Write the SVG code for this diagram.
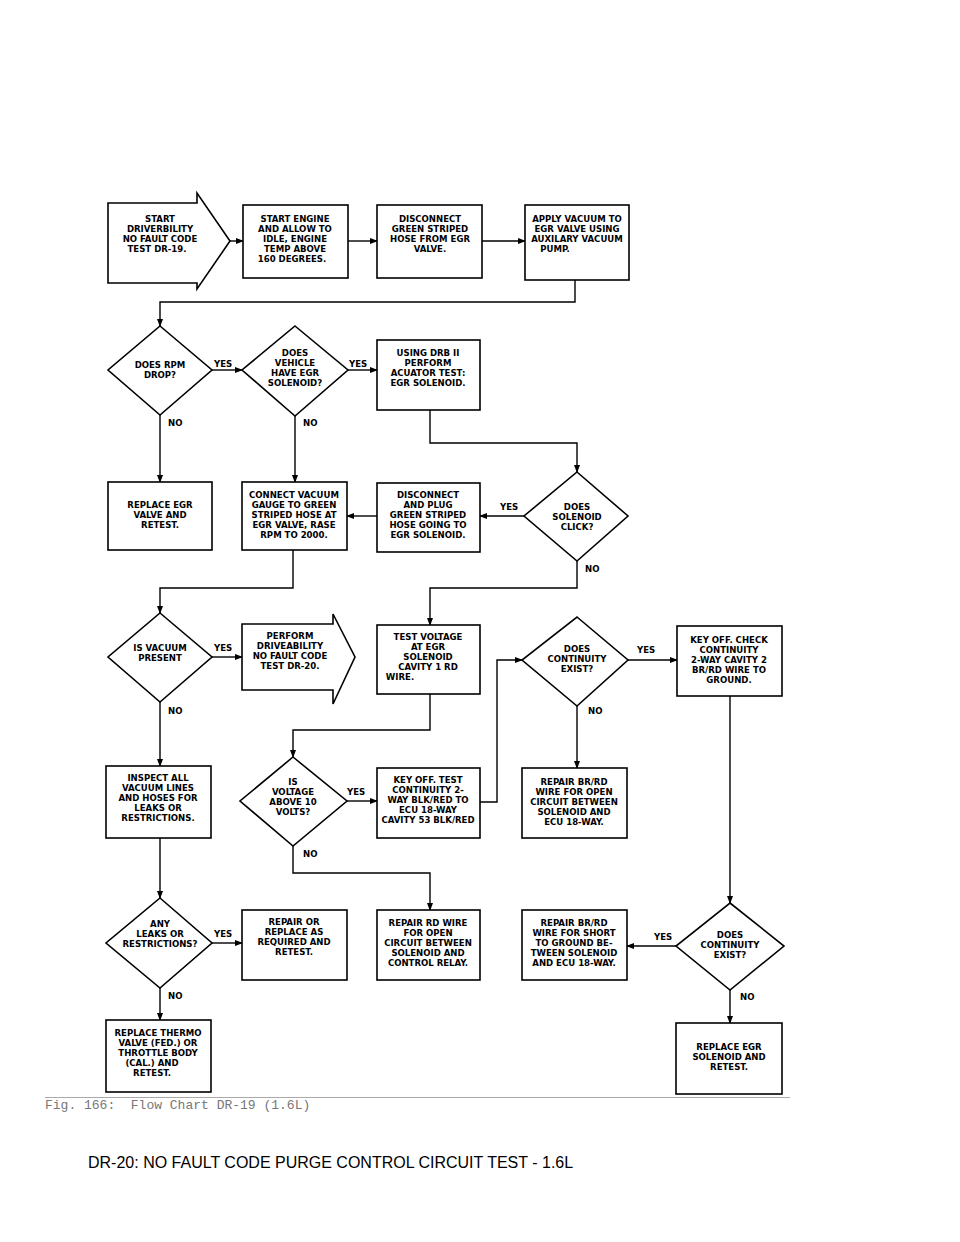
<svg xmlns="http://www.w3.org/2000/svg" width="960" height="1242" viewBox="0 0 960 1242">
<defs>
<marker id="ah" markerWidth="8" markerHeight="6" refX="7" refY="3" orient="auto" markerUnits="userSpaceOnUse"><path d="M0,0 L8,3 L0,6 z" fill="#000"/></marker>
<style>
.s{fill:#fff;stroke:#000;stroke-width:1.6}
.c{fill:none;stroke:#000;stroke-width:1.4;marker-end:url(#ah)}
.l{fill:none;stroke:#000;stroke-width:1.4}
text{font-family:"DejaVu Sans Condensed","Liberation Sans",sans-serif;font-size:9.5px;font-weight:bold;fill:#000}
.t{text-anchor:middle}
</style>
</defs>
<rect width="960" height="1242" fill="#fff"/>
<g id="connectors">
<path class="c" d="M230,241 H243"/>
<path class="c" d="M348,241 H377"/>
<path class="c" d="M482,241 H525"/>
<path class="c" d="M575,280 V302 H160 V326"/>
<path class="c" d="M212,370 H242"/>
<path class="c" d="M348,370 H377"/>
<path class="c" d="M430,410 V443 H577 V472"/>
<path class="c" d="M160,415 V482"/>
<path class="c" d="M295,416 V482"/>
<path class="c" d="M524,516 H480"/>
<path class="c" d="M377,516 H347"/>
<path class="c" d="M577,561 V588 H430 V625"/>
<path class="c" d="M293,550 V588 H160 V613"/>
<path class="c" d="M212,657 H242"/>
<path class="c" d="M628,660 H677"/>
<path class="c" d="M577,706 V768"/>
<path class="c" d="M160,702 V766"/>
<path class="c" d="M430,694 V730 H293 V757"/>
<path class="c" d="M730,696 V903"/>
<path class="c" d="M347,801 H377"/>
<path class="c" d="M480,802 H497 V660 H522"/>
<path class="c" d="M293,846 V873 H430 V910"/>
<path class="c" d="M160,838 V898"/>
<path class="c" d="M212,943 H242"/>
<path class="c" d="M676,946 H627"/>
<path class="c" d="M730,990 V1023"/>
<path class="c" d="M160,988 V1020"/>
</g>
<g id="labels">
<text x="214" y="367">YES</text><text x="349" y="367">YES</text>
<text x="168" y="426">NO</text><text x="303" y="426">NO</text>
<text x="500" y="510">YES</text><text x="585" y="572">NO</text>
<text x="214" y="651">YES</text><text x="637" y="653">YES</text>
<text x="168" y="714">NO</text><text x="588" y="714">NO</text>
<text x="347" y="795">YES</text><text x="303" y="857">NO</text>
<text x="214" y="937">YES</text><text x="654" y="940">YES</text>
<text x="168" y="999">NO</text><text x="740" y="1000">NO</text>
</g>
<g id="n1"><path class="s" d="M108,203 H197 V193 L230,241 L197,289 V283 H108 z"/>
<text class="t" x="160" y="222">START</text><text class="t" x="160" y="232">DRIVERBILITY</text><text class="t" x="160" y="242">NO FAULT CODE</text><text class="t" x="157" y="252">TEST DR-19.</text></g>
<g id="n2"><rect class="s" x="243" y="205" width="105" height="73"/>
<text class="t" x="295" y="222">START ENGINE</text><text class="t" x="295" y="232">AND ALLOW TO</text><text class="t" x="295" y="242">IDLE, ENGINE</text><text class="t" x="295" y="252">TEMP ABOVE</text><text class="t" x="292" y="262">160 DEGREES.</text></g>
<g id="n3"><rect class="s" x="377" y="205" width="105" height="73"/>
<text class="t" x="430" y="222">DISCONNECT</text><text class="t" x="430" y="232">GREEN STRIPED</text><text class="t" x="430" y="242">HOSE FROM EGR</text><text class="t" x="430" y="252">VALVE.</text></g>
<g id="n4"><rect class="s" x="525" y="205" width="104" height="75"/>
<text class="t" x="577" y="222">APPLY VACUUM TO</text><text class="t" x="577" y="232">EGR VALVE USING</text><text class="t" x="577" y="242">AUXILARY VACUUM</text><text class="t" x="555" y="252">PUMP.</text></g>
<g id="d1"><path class="s" d="M160,326 L212,370 L160,415 L108,370 z"/>
<text class="t" x="160" y="368">DOES RPM</text><text class="t" x="160" y="378">DROP?</text></g>
<g id="d2"><path class="s" d="M295,326 L348,370 L295,416 L242,370 z"/>
<text class="t" x="295" y="356">DOES</text><text class="t" x="295" y="366">VEHICLE</text><text class="t" x="295" y="376">HAVE EGR</text><text class="t" x="295" y="386">SOLENOID?</text></g>
<g id="n5"><rect class="s" x="377" y="340" width="103" height="70"/>
<text class="t" x="428" y="356">USING DRB II</text><text class="t" x="428" y="366">PERFORM</text><text class="t" x="428" y="376">ACUATOR TEST:</text><text class="t" x="428" y="386">EGR SOLENOID.</text></g>
<g id="n6"><rect class="s" x="108" y="482" width="104" height="68"/>
<text class="t" x="160" y="508">REPLACE EGR</text><text class="t" x="160" y="518">VALVE AND</text><text class="t" x="160" y="528">RETEST.</text></g>
<g id="n7"><rect class="s" x="242" y="482" width="105" height="68"/>
<text class="t" x="294" y="498">CONNECT VACUUM</text><text class="t" x="294" y="508">GAUGE TO GREEN</text><text class="t" x="294" y="518">STRIPED HOSE AT</text><text class="t" x="294" y="528">EGR VALVE, RASE</text><text class="t" x="294" y="538">RPM TO 2000.</text></g>
<g id="n8"><rect class="s" x="377" y="483" width="103" height="69"/>
<text class="t" x="428" y="498">DISCONNECT</text><text class="t" x="428" y="508">AND PLUG</text><text class="t" x="428" y="518">GREEN STRIPED</text><text class="t" x="428" y="528">HOSE GOING TO</text><text class="t" x="428" y="538">EGR SOLENOID.</text></g>
<g id="d3"><path class="s" d="M577,472 L628,516 L577,561 L524,516 z"/>
<text class="t" x="577" y="510">DOES</text><text class="t" x="577" y="520">SOLENOID</text><text class="t" x="577" y="530">CLICK?</text></g>
<g id="d4"><path class="s" d="M160,613 L212,657 L160,702 L108,657 z"/>
<text class="t" x="160" y="651">IS VACUUM</text><text class="t" x="160" y="661">PRESENT</text></g>
<g id="n9"><path class="s" d="M242,624 H333 V614 L355,657 L333,704 V690 H242 z"/>
<text class="t" x="290" y="639">PERFORM</text><text class="t" x="290" y="649">DRIVEABILITY</text><text class="t" x="290" y="659">NO FAULT CODE</text><text class="t" x="290" y="669">TEST DR-20.</text></g>
<g id="n10"><rect class="s" x="377" y="625" width="103" height="69"/>
<text class="t" x="428" y="640">TEST VOLTAGE</text><text class="t" x="428" y="650">AT EGR</text><text class="t" x="428" y="660">SOLENOID</text><text class="t" x="428" y="670">CAVITY 1 RD</text><text class="t" x="400" y="680">WIRE.</text></g>
<g id="d5"><path class="s" d="M577,617 L628,660 L577,706 L522,660 z"/>
<text class="t" x="577" y="652">DOES</text><text class="t" x="577" y="662">CONTINUITY</text><text class="t" x="577" y="672">EXIST?</text></g>
<g id="n11"><rect class="s" x="677" y="626" width="105" height="70"/>
<text class="t" x="729" y="643">KEY OFF. CHECK</text><text class="t" x="729" y="653">CONTINUITY</text><text class="t" x="729" y="663">2-WAY CAVITY 2</text><text class="t" x="729" y="673">BR/RD WIRE TO</text><text class="t" x="729" y="683">GROUND.</text></g>
<g id="n12"><rect class="s" x="106" y="766" width="105" height="72"/>
<text class="t" x="158" y="781">INSPECT ALL</text><text class="t" x="158" y="791">VACUUM LINES</text><text class="t" x="158" y="801">AND HOSES FOR</text><text class="t" x="158" y="811">LEAKS OR</text><text class="t" x="158" y="821">RESTRICTIONS.</text></g>
<g id="d6"><path class="s" d="M293,757 L347,801 L293,846 L240,801 z"/>
<text class="t" x="293" y="785">IS</text><text class="t" x="293" y="795">VOLTAGE</text><text class="t" x="293" y="805">ABOVE 10</text><text class="t" x="293" y="815">VOLTS?</text></g>
<g id="n13"><rect class="s" x="377" y="768" width="103" height="70"/>
<text class="t" x="428" y="783">KEY OFF. TEST</text><text class="t" x="428" y="793">CONTINUITY 2-</text><text class="t" x="428" y="803">WAY BLK/RED TO</text><text class="t" x="428" y="813">ECU 18-WAY</text><text class="t" x="428" y="823">CAVITY 53 BLK/RED</text></g>
<g id="n14"><rect class="s" x="522" y="768" width="105" height="70"/>
<text class="t" x="574" y="785">REPAIR BR/RD</text><text class="t" x="574" y="795">WIRE FOR OPEN</text><text class="t" x="574" y="805">CIRCUIT BETWEEN</text><text class="t" x="574" y="815">SOLENOID AND</text><text class="t" x="574" y="825">ECU 18-WAY.</text></g>
<g id="d7"><path class="s" d="M160,898 L212,943 L160,988 L106,943 z"/>
<text class="t" x="160" y="927">ANY</text><text class="t" x="160" y="937">LEAKS OR</text><text class="t" x="160" y="947">RESTRICTIONS?</text></g>
<g id="n15"><rect class="s" x="242" y="910" width="105" height="70"/>
<text class="t" x="294" y="925">REPAIR OR</text><text class="t" x="294" y="935">REPLACE AS</text><text class="t" x="294" y="945">REQUIRED AND</text><text class="t" x="294" y="955">RETEST.</text></g>
<g id="n16"><rect class="s" x="377" y="910" width="103" height="70"/>
<text class="t" x="428" y="926">REPAIR RD WIRE</text><text class="t" x="428" y="936">FOR OPEN</text><text class="t" x="428" y="946">CIRCUIT BETWEEN</text><text class="t" x="428" y="956">SOLENOID AND</text><text class="t" x="428" y="966">CONTROL RELAY.</text></g>
<g id="n17"><rect class="s" x="522" y="910" width="105" height="70"/>
<text class="t" x="574" y="926">REPAIR BR/RD</text><text class="t" x="574" y="936">WIRE FOR SHORT</text><text class="t" x="574" y="946">TO GROUND BE-</text><text class="t" x="574" y="956">TWEEN SOLENOID</text><text class="t" x="574" y="966">AND ECU 18-WAY.</text></g>
<g id="d8"><path class="s" d="M730,903 L784,946 L730,990 L676,946 z"/>
<text class="t" x="730" y="938">DOES</text><text class="t" x="730" y="948">CONTINUITY</text><text class="t" x="730" y="958">EXIST?</text></g>
<g id="n18"><rect class="s" x="106" y="1020" width="105" height="72"/>
<text class="t" x="158" y="1036">REPLACE THERMO</text><text class="t" x="158" y="1046">VALVE (FED.) OR</text><text class="t" x="158" y="1056">THROTTLE BODY</text><text class="t" x="152" y="1066">(CAL.) AND</text><text class="t" x="152" y="1076">RETEST.</text></g>
<g id="n19"><rect class="s" x="676" y="1023" width="106" height="71"/>
<text class="t" x="729" y="1050">REPLACE EGR</text><text class="t" x="729" y="1060">SOLENOID AND</text><text class="t" x="729" y="1070">RETEST.</text></g>
<g id="caption">
<line x1="45" y1="1097.5" x2="790" y2="1097.5" stroke="#aaa" stroke-width="1"/>
<text x="45" y="1109" xml:space="preserve" style="font-family:'Liberation Mono',monospace;font-size:13px;font-weight:normal;fill:#777">Fig. 166:  Flow Chart DR-19 (1.6L)</text>
<text x="88" y="1168" style="font-family:'Liberation Sans',Arial,sans-serif;font-size:16px;font-weight:normal;fill:#000">DR-20: NO FAULT CODE PURGE CONTROL CIRCUIT TEST - 1.6L</text>
</g>
</svg>
